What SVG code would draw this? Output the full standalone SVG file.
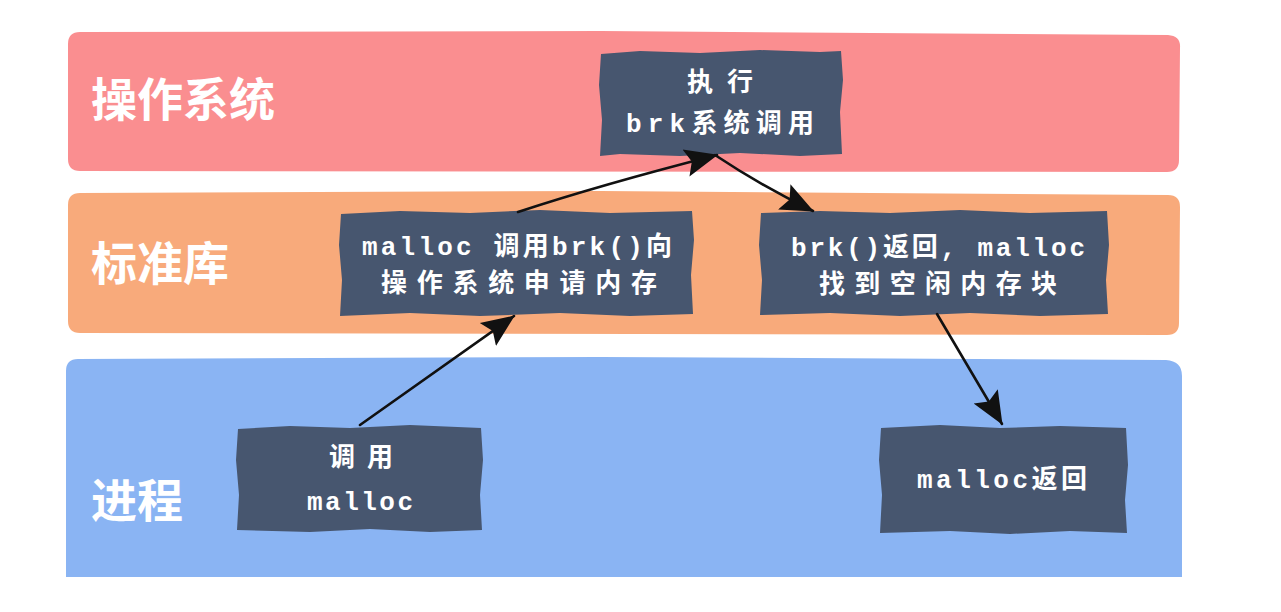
<svg xmlns="http://www.w3.org/2000/svg" width="1281" height="612" viewBox="0 0 1281 612">
<defs>
<style>
.band-label{font-family:"Noto Sans CJK SC","Noto Sans",sans-serif;font-weight:bold;font-size:46px;fill:#ffffff}
.node-box{fill:#47566f}
.node-text{font-family:"Liberation Mono","Noto Sans CJK SC",monospace;font-weight:bold;font-size:26px;fill:#ffffff;text-anchor:middle}
.conn{fill:none;stroke:#111111;stroke-width:2.6;stroke-linecap:round}
</style>
<marker id="arrow" markerUnits="userSpaceOnUse" markerWidth="34" markerHeight="30" viewBox="0 0 34 30" refX="32" refY="15" orient="auto">
<path d="M0,1 L33,15 L0,29 L6,15 Z" fill="#111111"/>
</marker>
</defs>
<rect x="0" y="0" width="1281" height="612" fill="#ffffff"/>
<g id="band-os">
<path d="M80,32 L600,31 L1168,35 Q1181,36 1180,48 L1179,160 Q1179,172 1167,172 L80,171 Q68,171 68,159 L68,44 Q68,32 80,32 Z" fill="#fa8e90"/>
<text class="band-label" x="91" y="116">操作系统</text>
</g>
<g id="band-lib">
<path d="M80,193 L600,191 L1168,195 Q1180,195 1180,207 L1179,323 Q1179,335 1167,335 L80,333 Q68,333 68,321 L68,205 Q68,193 80,193 Z" fill="#f8aa7b"/>
<text class="band-label" x="91" y="280">标准库</text>
</g>
<g id="band-proc">
<path d="M78,359 L600,357 L1166,360 Q1182,361 1182,376 L1182,577 L66,577 L66,371 Q66,359 78,359 Z" fill="#8ab4f3"/>
<text class="band-label" x="91" y="517">进程</text>
</g>
<g id="node-exec">
<path class="node-box" d="M601,54 L640,51 L700,53 L760,50 L820,52 L841,51 L843,80 L840,112 L842,154 L800,156 L740,153 L680,156 L620,154 L600,156 L602,120 L599,85 Z"/>
<text class="node-text" x="720" y="91" textLength="66" lengthAdjust="spacing">执行</text>
<text class="node-text" x="720" y="132" textLength="188" lengthAdjust="spacing">brk系统调用</text>
</g>
<g id="node-malloc-brk">
<path class="node-box" d="M341,214 L400,211 L470,213 L540,210 L610,213 L692,211 L694,240 L691,275 L693,314 L630,316 L560,313 L480,316 L410,313 L340,316 L342,280 L339,245 Z"/>
<text class="node-text" x="517" y="255" textLength="310" lengthAdjust="spacing">malloc 调用brk()向</text>
<text class="node-text" x="519" y="292" textLength="276" lengthAdjust="spacing">操作系统申请内存</text>
</g>
<g id="node-brk-return">
<path class="node-box" d="M761,213 L820,211 L890,213 L960,210 L1030,213 L1107,211 L1109,245 L1106,280 L1108,314 L1040,316 L970,313 L900,316 L830,313 L760,315 L762,280 L759,245 Z"/>
<text class="node-text" x="938" y="256" textLength="294" lengthAdjust="spacing">brk()返回, malloc</text>
<text class="node-text" x="938" y="293" textLength="238" lengthAdjust="spacing">找到空闲内存块</text>
</g>
<g id="node-call-malloc">
<path class="node-box" d="M238,429 L290,426 L350,428 L410,425 L481,428 L483,460 L480,495 L482,530 L430,532 L370,529 L310,532 L237,530 L239,495 L236,460 Z"/>
<text class="node-text" x="361" y="466" textLength="64" lengthAdjust="spacing">调用</text>
<text class="node-text" x="360" y="510" textLength="106" lengthAdjust="spacing">malloc</text>
</g>
<g id="node-malloc-return">
<path class="node-box" d="M881,428 L940,425 L1000,428 L1060,426 L1126,428 L1128,465 L1125,500 L1127,533 L1070,531 L1010,534 L950,531 L880,533 L882,495 L879,460 Z"/>
<text class="node-text" x="1002" y="488" textLength="170" lengthAdjust="spacing">malloc返回</text>
</g>
<g id="connectors">
<path class="conn" d="M360,425 L514,316" marker-end="url(#arrow)"/>
<path class="conn" d="M518,212 Q600,185 717,155" marker-end="url(#arrow)"/>
<path class="conn" d="M715,155 Q760,185 813,211" marker-end="url(#arrow)"/>
<path class="conn" d="M937,314 L1002,424" marker-end="url(#arrow)"/>
</g>
</svg>
